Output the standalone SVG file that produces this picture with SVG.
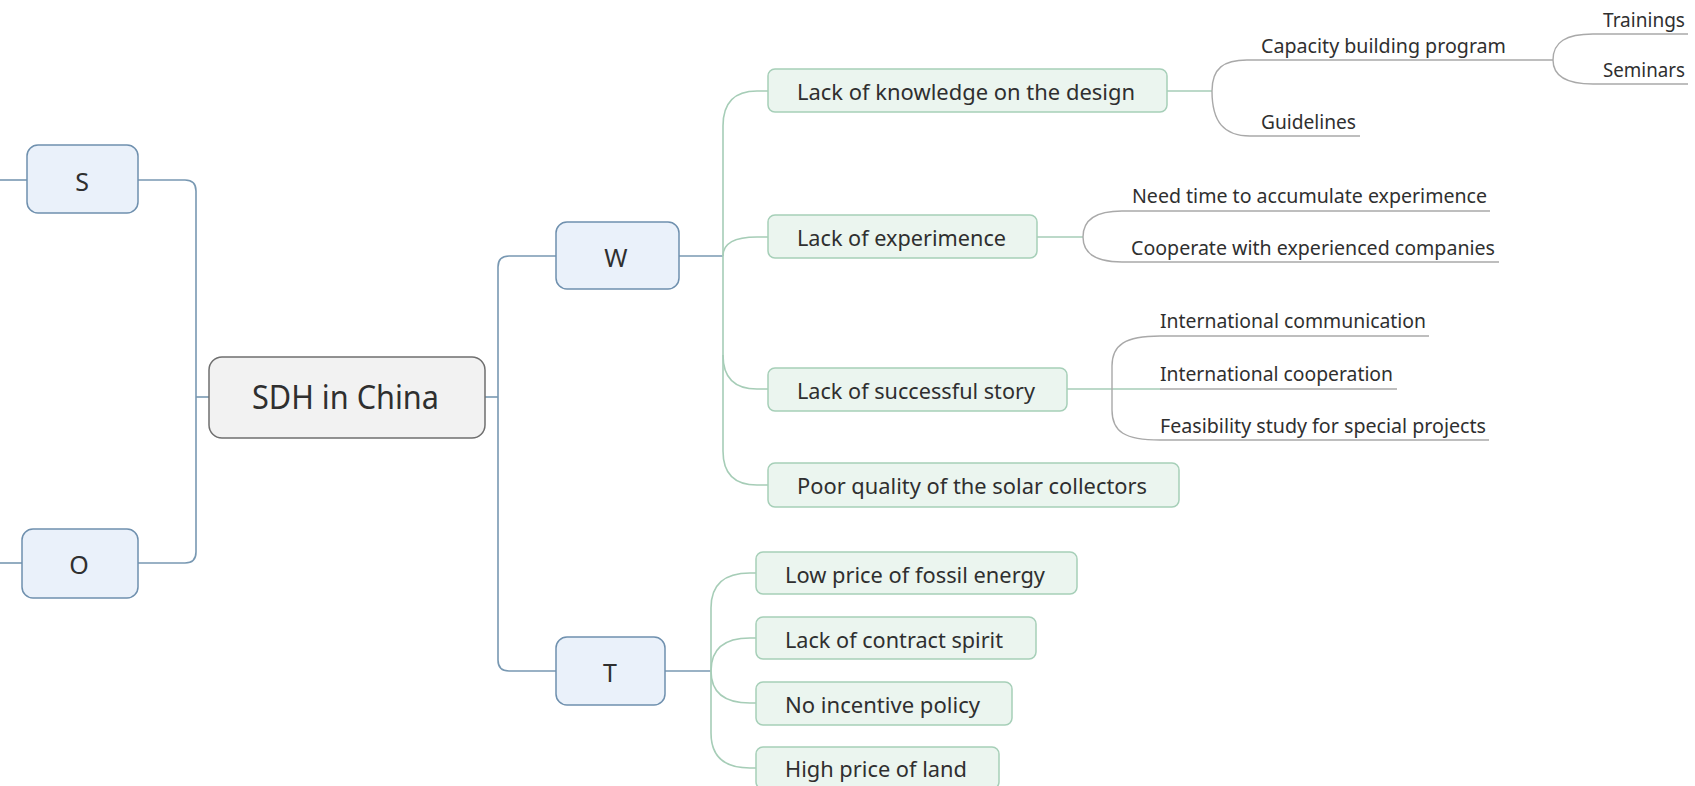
<svg xmlns="http://www.w3.org/2000/svg" width="1695" height="786" viewBox="0 0 1695 786">
<style>
text{font-family:"Noto Sans","Open Sans","DejaVu Sans",sans-serif;fill:#2f2f2f}
.c0{fill:#f2f2f2;stroke:#6f6f6f;stroke-width:1.5}
.c1{fill:#eaf1fa;stroke:#6f90ae;stroke-width:1.5}
.c2{fill:#ebf5ef;stroke:#a6cfb8;stroke-width:1.5}
.t0{font-size:32px}
.t1{font-size:25px;text-anchor:middle}
.t2{font-size:22px}
.t3{font-size:20px}
.lb{fill:none;stroke:#7898b2;stroke-width:1.6}
.lg{fill:none;stroke:#a6cdb7;stroke-width:1.6}
.lr{fill:none;stroke:#a9a9a9;stroke-width:1.4}
</style>
<rect width="1695" height="786" fill="#ffffff"/>
<g id="connectors">
<path class="lb" d="M0,180 H27"/>
<path class="lb" d="M0,563 H22"/>
<path class="lb" d="M138,180 H185 Q196,180 196,191 V552 Q196,563 185,563 H138"/>
<path class="lb" d="M196,397 H209"/>
<path class="lb" d="M485,397 H498"/>
<path class="lb" d="M556,256 H509 Q498,256 498,267 V660 Q498,671 509,671 H556"/>
<path class="lb" d="M679,256 H723"/>
<path class="lb" d="M665,671 H711"/>
<path class="lg" d="M723,256 V126 Q723,91 757,91 H768"/>
<path class="lg" d="M723,256 Q723,237 757,237 H768"/>
<path class="lg" d="M723,256 V355 Q723,389 757,389 H768"/>
<path class="lg" d="M723,355 V451 Q723,485 757,485 H768"/>
<path class="lg" d="M711,671 V608 Q711,573 750,573 H756"/>
<path class="lg" d="M711,671 Q711,638 750,638 H756"/>
<path class="lg" d="M711,671 Q711,703 750,703 H756"/>
<path class="lg" d="M711,671 V733 Q711,768 750,768 H756"/>
<path class="lg" d="M1167,91 H1212"/>
<path class="lr" d="M1212,91 C1212,68 1224,60 1247,60 H1553"/>
<path class="lr" d="M1212,91 C1212,122 1224,136 1250,136 H1360"/>
<path class="lr" d="M1553,60 C1553,42 1566,34 1593,34 H1688"/>
<path class="lr" d="M1553,60 C1553,76 1566,84 1593,84 H1688"/>
<path class="lg" d="M1037,237 H1083"/>
<path class="lr" d="M1083,237 C1083,219 1096,211 1122,211 H1490"/>
<path class="lr" d="M1083,237 C1083,254 1096,262 1122,262 H1499"/>
<path class="lg" d="M1067,389 H1160"/>
<path class="lr" d="M1160,389 H1397"/>
<path class="lr" d="M1112,389 V366 C1112,345 1125,336 1160,336 H1429"/>
<path class="lr" d="M1112,389 V410 C1112,432 1125,440 1160,440 H1489"/>
</g>
<g id="central">
<rect class="c0" x="209" y="357" width="276" height="81" rx="13"/>
<text class="t0" x="252" y="409" textLength="187" lengthAdjust="spacingAndGlyphs">SDH in China</text>
</g>
<g id="node-s">
<rect class="c1" x="27" y="145" width="111" height="68" rx="11"/>
<text class="t1" x="82" y="191">S</text>
</g>
<g id="node-o">
<rect class="c1" x="22" y="529" width="116" height="69" rx="11"/>
<text class="t1" x="79" y="574">O</text>
</g>
<g id="node-w">
<rect class="c1" x="556" y="222" width="123" height="67" rx="11"/>
<text class="t1" x="616" y="267">W</text>
</g>
<g id="node-t">
<rect class="c1" x="556" y="637" width="109" height="68" rx="11"/>
<text class="t1" x="610" y="682">T</text>
</g>
<g id="w-knowledge">
<rect class="c2" x="768" y="69" width="399" height="43" rx="7"/>
<text class="t2" x="797" y="100" textLength="338" lengthAdjust="spacingAndGlyphs">Lack of knowledge on the design</text>
</g>
<g id="w-experimence">
<rect class="c2" x="768" y="215" width="269" height="43" rx="7"/>
<text class="t2" x="797" y="245.5" textLength="209" lengthAdjust="spacingAndGlyphs">Lack of experimence</text>
</g>
<g id="w-story">
<rect class="c2" x="768" y="368" width="299" height="43" rx="7"/>
<text class="t2" x="797" y="398.5" textLength="238" lengthAdjust="spacingAndGlyphs">Lack of successful story</text>
</g>
<g id="w-quality">
<rect class="c2" x="768" y="463" width="411" height="44" rx="7"/>
<text class="t2" x="797" y="494" textLength="350" lengthAdjust="spacingAndGlyphs">Poor quality of the solar collectors</text>
</g>
<g id="t-fossil">
<rect class="c2" x="756" y="552" width="321" height="42" rx="7"/>
<text class="t2" x="785" y="583" textLength="260" lengthAdjust="spacingAndGlyphs">Low price of fossil energy</text>
</g>
<g id="t-contract">
<rect class="c2" x="756" y="617" width="280" height="42" rx="7"/>
<text class="t2" x="785" y="648" textLength="218" lengthAdjust="spacingAndGlyphs">Lack of contract spirit</text>
</g>
<g id="t-incentive">
<rect class="c2" x="756" y="682" width="256" height="43" rx="7"/>
<text class="t2" x="785" y="713" textLength="195" lengthAdjust="spacingAndGlyphs">No incentive policy</text>
</g>
<g id="t-land">
<rect class="c2" x="756" y="747" width="243" height="42" rx="7"/>
<text class="t2" x="785" y="777" textLength="182" lengthAdjust="spacingAndGlyphs">High price of land</text>
</g>
<g id="capacity">
<text class="t3" x="1261" y="53" textLength="245" lengthAdjust="spacingAndGlyphs">Capacity building program</text>
</g>
<g id="guidelines">
<text class="t3" x="1261" y="129" textLength="95" lengthAdjust="spacingAndGlyphs">Guidelines</text>
</g>
<g id="trainings">
<text class="t3" x="1603" y="27" textLength="82" lengthAdjust="spacingAndGlyphs">Trainings</text>
</g>
<g id="seminars">
<text class="t3" x="1603" y="77" textLength="82" lengthAdjust="spacingAndGlyphs">Seminars</text>
</g>
<g id="need-time">
<text class="t3" x="1132" y="203" textLength="355" lengthAdjust="spacingAndGlyphs">Need time to accumulate experimence</text>
</g>
<g id="cooperate">
<text class="t3" x="1131" y="255" textLength="364" lengthAdjust="spacingAndGlyphs">Cooperate with experienced companies</text>
</g>
<g id="intl-communication">
<text class="t3" x="1160" y="328" textLength="266" lengthAdjust="spacingAndGlyphs">International communication</text>
</g>
<g id="intl-cooperation">
<text class="t3" x="1160" y="381" textLength="233" lengthAdjust="spacingAndGlyphs">International cooperation</text>
</g>
<g id="feasibility">
<text class="t3" x="1160" y="433" textLength="326" lengthAdjust="spacingAndGlyphs">Feasibility study for special projects</text>
</g>
</svg>
